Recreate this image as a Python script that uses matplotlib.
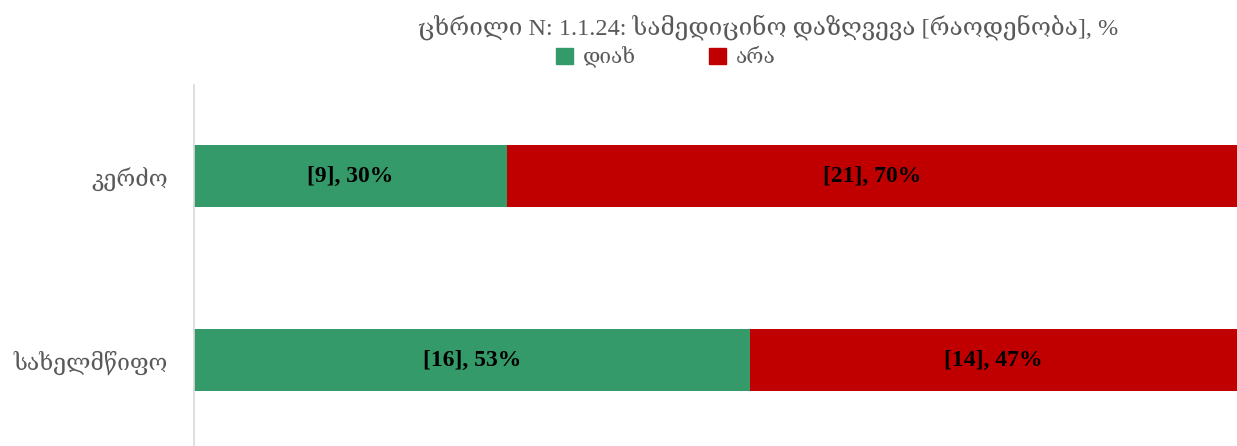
import numpy as np
import matplotlib.pyplot as plt
from matplotlib.patches import Patch

categories = ['სახელმწიფო', 'კერძო']
yes_counts = [16, 9]
no_counts = [14, 21]
series_names = ['დიახ', 'არა']
title = 'ცხრილი N: 1.1.24: სამედიცინო დაზღვევა [რაოდენობა], %'

green = '#359A6A'
red = '#C00000'
gray = '#595959'
fam = ['Liberation Serif', 'DejaVu Serif']

yes = np.array(yes_counts, dtype=float)
no = np.array(no_counts, dtype=float)
tot = yes + no
yes_p = yes / tot * 100
no_p = no / tot * 100

fig = plt.figure(figsize=(12.37, 4.46), dpi=100)
ax = fig.add_axes([194 / 1237, 0, 1 - 194 / 1237, (446 - 85) / 446])
y = np.arange(len(categories))
h = 0.337
ax.barh(y, yes_p, height=h, color=green)
ax.barh(y, no_p, left=yes_p, height=h, color=red)

for i in range(len(categories)):
    ax.text(yes_p[i] / 2, y[i], '[%d], %d%%' % (yes[i], round(yes_p[i])),
            ha='center', va='center', fontsize=17, fontweight='bold', family=fam)
    ax.text(yes_p[i] + no_p[i] / 2, y[i], '[%d], %d%%' % (no[i], round(no_p[i])),
            ha='center', va='center', fontsize=17, fontweight='bold', family=fam)

ax.set_xlim(0, 100)
ax.set_ylim(-0.467, 1.495)
ax.set_yticks(y)
ax.set_yticklabels(categories, fontsize=16.5, color=gray, family=fam)
ax.tick_params(axis='y', length=0, pad=19)
ax.set_xticks([])
for s in ['top', 'right', 'bottom']:
    ax.spines[s].set_visible(False)
ax.spines['left'].set_color('#D9D9D9')
ax.spines['left'].set_linewidth(1.2)

fig.text(768 / 1237, 1 - 27 / 446, title, ha='center', va='center',
         fontsize=17.5, color=gray, family=fam)
handles = [Patch(color=green), Patch(color=red)]
fig.legend(handles, series_names, loc='center', bbox_to_anchor=(666 / 1237, 1 - 57 / 446),
           ncol=2, frameon=False, prop={'family': fam, 'size': 15},
           handlelength=0.8, handleheight=0.8, columnspacing=3.5, handletextpad=0.5,
           labelcolor=gray)

fig.savefig('out.png', dpi=100)
